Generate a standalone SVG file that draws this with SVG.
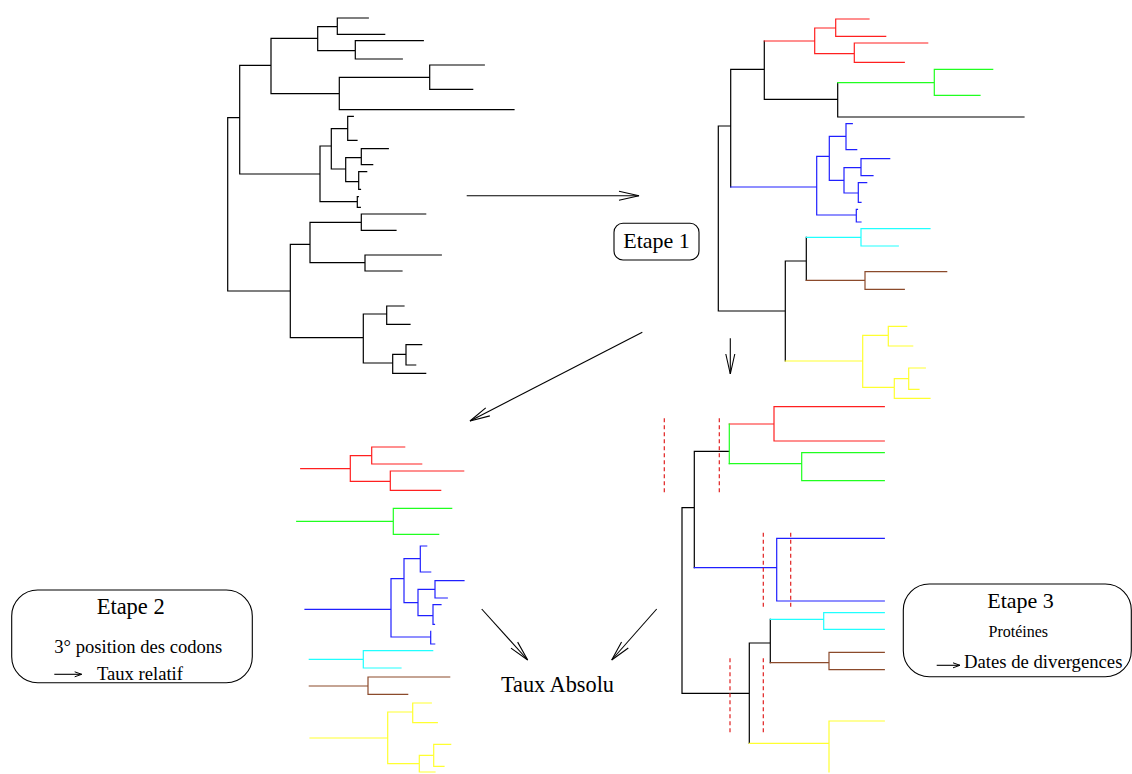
<svg xmlns="http://www.w3.org/2000/svg" width="1132" height="774" viewBox="0 0 1132 774">
<style>
.t{fill:none;stroke-width:1.2;stroke-linecap:square}
.k{stroke:#000}.r{stroke:#ff2020}.g{stroke:#20ff20}.b{stroke:#2020ff}.c{stroke:#20ffff}.n{stroke:#8b4a2b}.y{stroke:#ffff30}
.d{fill:none;stroke:#e02020;stroke-width:1.2;stroke-dasharray:4,3}
.a{fill:none;stroke:#000;stroke-width:1.1}
.box{fill:#fff;stroke:#000;stroke-width:1.1}
text{font-family:"Liberation Serif","Times New Roman",serif;fill:#000}
</style>
<defs>
<marker id="ah" markerUnits="userSpaceOnUse" markerWidth="24" markerHeight="12" viewBox="-22 -6 24 12" refX="0" refY="0" orient="auto"><path d="M-20,-4.5 L0,0 L-20,4.5" fill="none" stroke="#000" stroke-width="1.1"/></marker>
<marker id="as" markerUnits="userSpaceOnUse" markerWidth="10" markerHeight="8" viewBox="-9 -4 10 8" refX="0" refY="0" orient="auto"><path d="M-7,-2.5 L0,0 L-7,2.5" fill="none" stroke="#000" stroke-width="1"/></marker>
</defs>

<g id="tree-initial">
<path class="t k" d="M227.7,117.7H239.7M227.7,117.7V291M227.7,291H290.3
M239.7,65.3V174M239.7,65.3H271M271,38.3V93.7M271,38.3H317.7M317.7,26.7V50.7
M317.7,26.7H337.3M337.3,18V34.3M337.3,18H368.3M337.3,34.3H384.7
M317.7,50.7H355.3M355.3,40.7V59M355.3,40.7H423.3M355.3,59H402.3
M271,93.7H339.3M339.3,77.3V109.7M339.3,77.3H429.7M429.7,65V89.3M429.7,65H484.3M429.7,89.3H472.7M339.3,109.7H514
M239.7,174H320M320,146V201.7M320,146H331.3M331.3,128.7V169
M331.3,128.7H347.7M347.7,116.3V140.3M347.7,116.3H353.3M347.7,140.3H357
M331.3,169H345.7M345.7,157.7V181.7M345.7,157.7H361.3M361.3,148.7V164.7M361.3,148.7H388.3M361.3,164.7H372.7
M345.7,181.7H358.7M358.7,171.7V189.3M358.7,171.7H366.7M358.7,189.3H360.5
M320,201.7H357.3M357.3,196.7V207.3M357.3,196.7H358.3M357.3,207.3H360.3
M290.3,244.3V337.7M290.3,244.3H310M310,222.3V262.7
M310,222.3H361.3M361.3,214V230.3M361.3,214H425.7M361.3,230.3H396
M310,262.7H365M365,255V271M365,255H441.3M365,271H402
M290.3,337.7H363.3M363.3,314V363M363.3,314H386.7M386.7,306V324.3M386.7,306H404M386.7,324.3H410
M363.3,363H392.7M392.7,354.3V373.3M392.7,354.3H406M406,344.7V365M406,344.7H421.7M406,365H415.7M392.7,373.3H425.7"/>
</g>

<g id="tree-colored">
<path class="t k" d="M718.3,126V311M718.3,126H730.7M730.7,69.3V187M730.7,69.3H764.3M764.3,41V99.3M764.3,99.3H837.7M837.7,82.7V117M837.7,117H1024M718.3,311H785.3M785.3,261V361M785.3,261H806.3M806.3,237.3V280.3"/>
<path class="t r" d="M764.3,41H814.7M814.7,28V53.7M814.7,28H835.7M835.7,19V36.3M835.7,19H869M835.7,36.3H885.7M814.7,53.7H854.3M854.3,43V62.3M854.3,43H927.7M854.3,62.3H904.3"/>
<path class="t g" d="M837.7,82.7H934.3M934.3,69.3V95.3M934.3,69.3H992.7M934.3,95.3H980"/>
<path class="t b" d="M730.7,187H816.7M816.7,156.3V215M816.7,156.3H829.3M829.3,136.3V180.3M829.3,136.3H846M846,123.7V149.7M846,123.7H852.3M846,149.7H856.7M829.3,180.3H844M844,167.7V193M844,167.7H861M861,158.7V175.7M861,158.7H889.7M861,175.7H873M844,193H858.3M858.3,182.7V202.3M858.3,182.7H866.7M858.3,202.3H861M816.7,215H856.3M856.3,209.3V222M856.3,209.3H857.5M856.3,222H861"/>
<path class="t c" d="M806.3,237.3H861M861,228.7V246M861,228.7H930M861,246H898.3"/>
<path class="t n" d="M806.3,280.3H865M865,271.7V289.3M865,271.7H946.7M865,289.3H904.3"/>
<path class="t y" d="M785.3,361H862.7M862.7,335.3V387.3M862.7,335.3H888.3M888.3,326.3V346M888.3,326.3H906.7M888.3,346H912.7M862.7,387.3H894.3M894.3,378.7V398.3M894.3,378.7H908.7M908.7,368V389.3M908.7,368H925.3M908.7,389.3H919M894.3,398.3H930"/>
</g>

<g id="tree-codons">
<path class="t r" d="M300.7,468.7H350.3M350.3,455.7V481.3M350.3,455.7H371.7M371.7,447V464M371.7,447H404.7M371.7,464H421.7M350.3,481.3H390.3M390.3,471V490.3M390.3,471H463.7M390.3,490.3H440.7"/>
<path class="t g" d="M296.7,521.3H393.3M393.3,508.3V534.3M393.3,508.3H451.7M393.3,534.3H438.7"/>
<path class="t b" d="M305,609.3H391M391,578.7V637M391,578.7H404M404,558.7V602.7M404,558.7H420.3M420.3,546V572M420.3,546H426.7M420.3,572H430.7M404,602.7H418M418,589.3V615.7M418,589.3H435M435,580.7V598M435,580.7H464M435,598H447.3M418,615.7H433M433,604.7V624.3M433,604.7H441M433,624.3H434.5M391,637H430.7M430.7,631.3V644M430.7,644H434.7"/>
<path class="t c" d="M309.3,659.3H363.3M363.3,650.7V668M363.3,650.7H432.7M363.3,668H401"/>
<path class="t n" d="M309.3,686H368M368,677V694.3M368,677H449.7M368,694.3H407.7"/>
<path class="t y" d="M310,738H387.7M387.7,712V763.7M387.7,712H412.7M412.7,703V722.7M412.7,703H431.3M412.7,722.7H437.3M387.7,763.7H419.3M419.3,755.3V772M419.3,755.3H433.7M433.7,744.3V766.3M433.7,744.3H450.7M433.7,766.3H444M419.3,772H435"/>
</g>

<g id="tree-proteins">
<path class="t k" d="M682,507.7V693.3M682,507.7H694.3M694.3,451.3V567.7M694.3,451.3H729.3M682,693.3H749.3M749.3,643V743.3M749.3,643H770.3M770.3,619.3V662.7"/>
<path class="t r" d="M729.3,424H774M774,406.7V441M774,406.7H884.3M774,441H884.3"/>
<path class="t g" d="M729.3,463.7H801.7M801.7,452.7V480.7M801.7,452.7H884.3M801.7,480.7H884.3"/>
<path class="t g" stroke-width="2" d="M729.3,424V463.7"/>
<path class="t b" d="M694.3,567.7H776.7M776.7,538.3V601M776.7,538.3H884.3M776.7,601H884.3"/>
<path class="t c" d="M770.3,619.3H823.7M823.7,612.7V629.3M823.7,612.7H884.3M823.7,629.3H884.3"/>
<path class="t n" d="M770.3,662.7H829M829,652.3V669.7M829,652.3H884.3M829,669.7H884.3"/>
<path class="t y" d="M749.3,743.3H829M829,721V772M829,721H884.3"/>
<path class="d" d="M664.3,418.3V492.3M719.3,418.3V492.3M763.3,532.7V606.7M790.7,532.7V606.7M730,658.3V732.7M763.3,658.3V732.7"/>
</g>

<g id="connectors">
<path class="a" marker-end="url(#ah)" d="M466.7,195.7H639"/>
<path class="a" marker-end="url(#ah)" d="M730.3,338.3V374"/>
<path class="a" marker-end="url(#ah)" d="M642.3,332.3L470,421"/>
<path class="a" marker-end="url(#ah)" d="M481.7,609L527.7,660"/>
<path class="a" marker-end="url(#ah)" d="M656.7,609L611.7,660"/>
</g>

<g id="etape1">
<rect class="box" x="614" y="223.3" width="85" height="36.7" rx="9"/>
<text x="656.5" y="248" font-size="22" text-anchor="middle">Etape 1</text>
</g>

<g id="etape2">
<rect class="box" x="11.7" y="590" width="240.6" height="92.7" rx="26"/>
<text x="130.7" y="614.3" font-size="22.5" text-anchor="middle">Etape 2</text>
<text x="138.3" y="652.7" font-size="18.6" text-anchor="middle">3° position des codons</text>
<path class="a" marker-end="url(#as)" d="M54.3,674.3H81.7"/>
<text x="97" y="680" font-size="18.6">Taux relatif</text>
</g>

<g id="etape3">
<rect class="box" x="903.3" y="584" width="228" height="92.7" rx="26"/>
<text x="1020.5" y="608.3" font-size="22" text-anchor="middle">Etape 3</text>
<text x="1018.3" y="636.7" font-size="16" text-anchor="middle">Protéines</text>
<path class="a" marker-end="url(#as)" d="M936.7,665.3H960"/>
<text x="964" y="667.7" font-size="18.7">Dates de divergences</text>
</g>

<g id="taux-absolu">
<text x="501" y="692" font-size="22.3">Taux Absolu</text>
</g>
</svg>
